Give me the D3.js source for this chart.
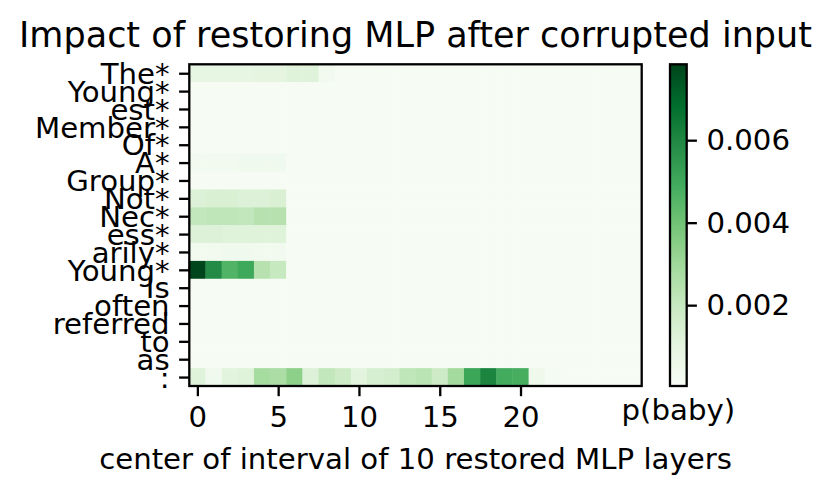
<!DOCTYPE html>
<html>
<head>
<meta charset="utf-8">
<script src="https://cdn.jsdelivr.net/npm/d3@7/dist/d3.min.js"></script>
<style>
body { margin: 0; background: #fff; }
text { font-family: "DejaVu Sans", sans-serif; }
</style>
</head>
<body>
<svg id="chart" width="831" height="496"></svg>
<script>
// tokens (rows) and layer indices (columns)
const tokens = ["The*", "Young*", "est*", "Member*", "Of*", "A*", "Group*", "Not*", "Nec*",
	"ess*", "arily*", "Young*", "Is", "often", "referred", "to", "as", ":"]
const layers = d3.range(28)
const xTicks = [0, 5, 10, 15, 20]
const cbarTicks = [0.002, 0.004, 0.006]

// p(baby) per token row, per restored layer window
const rowThe = [0.0009, 0.0009, 0.0009, 0.0009, 0.0010, 0.0010, 0.0012, 0.0012, 0.0003, 0.0001, 0.0001, 0.0001, 0.0001, 0.0001, 0.0001, 0.0001, 0.0001, 0.0001, 0.0001, 0.0001, 0.0001, 0.0001, 0.0001, 0.0001, 0.0001, 0.0001, 0.0001, 0.0001]
const rowYoung1 = [0.0001, 0.0001, 0.0001, 0.0001, 0.0001, 0.0001, 0.0001, 0.0001, 0.0001, 0.0001, 0.0001, 0.0001, 0.0001, 0.0001, 0.0001, 0.0001, 0.0001, 0.0001, 0.0001, 0.0001, 0.0001, 0.0001, 0.0001, 0.0001, 0.0001, 0.0001, 0.0001, 0.0001]
const rowEst = [0.0001, 0.0001, 0.0001, 0.0001, 0.0001, 0.0001, 0.0001, 0.0001, 0.0001, 0.0001, 0.0001, 0.0001, 0.0001, 0.0001, 0.0001, 0.0001, 0.0001, 0.0001, 0.0001, 0.0001, 0.0001, 0.0001, 0.0001, 0.0001, 0.0001, 0.0001, 0.0001, 0.0001]
const rowMember = [0.0001, 0.0001, 0.0001, 0.0001, 0.0001, 0.0001, 0.0001, 0.0001, 0.0001, 0.0001, 0.0001, 0.0001, 0.0001, 0.0001, 0.0001, 0.0001, 0.0001, 0.0001, 0.0001, 0.0001, 0.0001, 0.0001, 0.0001, 0.0001, 0.0001, 0.0001, 0.0001, 0.0001]
const rowOf = [0.0001, 0.0001, 0.0001, 0.0001, 0.0001, 0.0001, 0.0001, 0.0001, 0.0001, 0.0001, 0.0001, 0.0001, 0.0001, 0.0001, 0.0001, 0.0001, 0.0001, 0.0001, 0.0001, 0.0001, 0.0001, 0.0001, 0.0001, 0.0001, 0.0001, 0.0001, 0.0001, 0.0001]
const rowA = [0.0003, 0.0003, 0.0003, 0.0004, 0.0004, 0.0004, 0.0001, 0.0001, 0.0001, 0.0001, 0.0001, 0.0001, 0.0001, 0.0001, 0.0001, 0.0001, 0.0001, 0.0001, 0.0001, 0.0001, 0.0001, 0.0001, 0.0001, 0.0001, 0.0001, 0.0001, 0.0001, 0.0001]
const rowGroup = [0.0001, 0.0001, 0.0001, 0.0001, 0.0001, 0.0001, 0.0001, 0.0001, 0.0001, 0.0001, 0.0001, 0.0001, 0.0001, 0.0001, 0.0001, 0.0001, 0.0001, 0.0001, 0.0001, 0.0001, 0.0001, 0.0001, 0.0001, 0.0001, 0.0001, 0.0001, 0.0001, 0.0001]
const rowNot = [0.0013, 0.0014, 0.0014, 0.0013, 0.0013, 0.0014, 0.0001, 0.0001, 0.0001, 0.0001, 0.0001, 0.0001, 0.0001, 0.0001, 0.0001, 0.0001, 0.0001, 0.0001, 0.0001, 0.0001, 0.0001, 0.0001, 0.0001, 0.0001, 0.0001, 0.0001, 0.0001, 0.0001]
const rowNec = [0.0021, 0.0022, 0.0022, 0.0021, 0.0024, 0.0024, 0.0001, 0.0001, 0.0001, 0.0001, 0.0001, 0.0001, 0.0001, 0.0001, 0.0001, 0.0001, 0.0001, 0.0001, 0.0001, 0.0001, 0.0001, 0.0001, 0.0001, 0.0001, 0.0001, 0.0001, 0.0001, 0.0001]
const rowEss = [0.0013, 0.0013, 0.0012, 0.0012, 0.0012, 0.0012, 0.0001, 0.0001, 0.0001, 0.0001, 0.0001, 0.0001, 0.0001, 0.0001, 0.0001, 0.0001, 0.0001, 0.0001, 0.0001, 0.0001, 0.0001, 0.0001, 0.0001, 0.0001, 0.0001, 0.0001, 0.0001, 0.0001]
const rowArily = [0.0003, 0.0003, 0.0004, 0.0004, 0.0003, 0.0003, 0.0001, 0.0001, 0.0001, 0.0001, 0.0001, 0.0001, 0.0001, 0.0001, 0.0001, 0.0001, 0.0001, 0.0001, 0.0001, 0.0001, 0.0001, 0.0001, 0.0001, 0.0001, 0.0001, 0.0001, 0.0001, 0.0001]
const rowYoung2 = [0.0078, 0.0059, 0.0046, 0.0050, 0.0024, 0.0020, 0.0001, 0.0001, 0.0001, 0.0001, 0.0001, 0.0001, 0.0001, 0.0001, 0.0001, 0.0001, 0.0001, 0.0001, 0.0001, 0.0001, 0.0001, 0.0001, 0.0001, 0.0001, 0.0001, 0.0001, 0.0001, 0.0001]
const rowIs = [0.0001, 0.0001, 0.0001, 0.0001, 0.0001, 0.0001, 0.0001, 0.0001, 0.0001, 0.0001, 0.0001, 0.0001, 0.0001, 0.0001, 0.0001, 0.0001, 0.0001, 0.0001, 0.0001, 0.0001, 0.0001, 0.0001, 0.0001, 0.0001, 0.0001, 0.0001, 0.0001, 0.0001]
const rowOften = [0.0001, 0.0001, 0.0001, 0.0001, 0.0001, 0.0001, 0.0001, 0.0001, 0.0001, 0.0001, 0.0001, 0.0001, 0.0001, 0.0001, 0.0001, 0.0001, 0.0001, 0.0001, 0.0001, 0.0001, 0.0001, 0.0001, 0.0001, 0.0001, 0.0001, 0.0001, 0.0001, 0.0001]
const rowReferred = [0.0001, 0.0001, 0.0001, 0.0001, 0.0001, 0.0001, 0.0001, 0.0001, 0.0001, 0.0001, 0.0001, 0.0001, 0.0001, 0.0001, 0.0001, 0.0001, 0.0001, 0.0001, 0.0001, 0.0001, 0.0001, 0.0001, 0.0001, 0.0001, 0.0001, 0.0001, 0.0001, 0.0001]
const rowTo = [0.0001, 0.0001, 0.0001, 0.0001, 0.0001, 0.0001, 0.0001, 0.0001, 0.0001, 0.0001, 0.0001, 0.0001, 0.0001, 0.0001, 0.0001, 0.0001, 0.0001, 0.0001, 0.0001, 0.0001, 0.0001, 0.0001, 0.0001, 0.0001, 0.0001, 0.0001, 0.0001, 0.0001]
const rowAs = [0.0001, 0.0001, 0.0001, 0.0001, 0.0001, 0.0001, 0.0001, 0.0001, 0.0001, 0.0001, 0.0001, 0.0001, 0.0001, 0.0001, 0.0001, 0.0001, 0.0001, 0.0001, 0.0001, 0.0001, 0.0001, 0.0001, 0.0001, 0.0001, 0.0001, 0.0001, 0.0001, 0.0001]
const rowColon = [0.0012, 0.0004, 0.0011, 0.0012, 0.0028, 0.0027, 0.0034, 0.0013, 0.0021, 0.0018, 0.0011, 0.0015, 0.0016, 0.0022, 0.0023, 0.0018, 0.0029, 0.0051, 0.0061, 0.0049, 0.0048, 0.0005, 0.0002, 0.0001, 0.0001, 0.0001, 0.0001, 0.0001]

const rows = [rowThe, rowYoung1, rowEst, rowMember, rowOf, rowA, rowGroup, rowNot, rowNec,
	rowEss, rowArily, rowYoung2, rowIs, rowOften, rowReferred, rowTo, rowAs, rowColon]

const vmin = 0.00004
const vmax = 0.00784

const svg = d3.select("#chart")
const axL = 189.3, axR = 641.7, axT = 64.3, axB = 386
const fs = 29.2
const tick = 10.2
const lw = 2.3

const x = d3.scaleLinear().domain([-0.5, layers.length - 0.5]).range([axL, axR])
const y = d3.scaleLinear().domain([-0.5, tokens.length - 0.5]).range([axT, axB])

// matplotlib "Greens": linear through the 9 brewer colours
const greens = d3.schemeGreens[9]
const color = d3.scaleLinear()
	.domain(greens.map((c, i) => vmin + (vmax - vmin) * i / 8))
	.range(greens)
	.clamp(true)

const cells = []
rows.forEach((r, i) => r.forEach((v, j) => cells.push({ row: i, col: j, v: v })))

svg.append("g")
	.selectAll("rect")
	.data(cells)
	.join("rect")
	.attr("x", d => x(d.col - 0.5))
	.attr("y", d => y(d.row - 0.5))
	.attr("width", d => x(d.col + 0.5) - x(d.col - 0.5) + 0.4)
	.attr("height", d => y(d.row + 0.5) - y(d.row - 0.5) + 0.4)
	.attr("fill", d => color(d.v))

svg.append("rect")
	.attr("x", axL).attr("y", axT)
	.attr("width", axR - axL).attr("height", axB - axT)
	.attr("fill", "none").attr("stroke", "#000").attr("stroke-width", lw)

function styleAxis(g) {
	g.select(".domain").remove()
	g.selectAll(".tick line").attr("stroke", "#000").attr("stroke-width", lw)
	g.selectAll(".tick text").attr("fill", "#000").attr("font-size", fs)
		.attr("font-family", "DejaVu Sans")
}

const yAxis = d3.axisLeft(y)
	.tickValues(d3.range(tokens.length))
	.tickFormat(i => tokens[i])
	.tickSize(tick)
	.tickPadding(9.5)
svg.append("g").attr("transform", `translate(${axL},0)`).call(yAxis).call(styleAxis)
	.selectAll(".tick text").attr("dy", "0.35em")

const xAxis = d3.axisBottom(x)
	.tickValues(xTicks)
	.tickSize(tick)
	.tickPadding(10)
svg.append("g").attr("transform", `translate(0,${axB})`).call(xAxis).call(styleAxis)

svg.append("text")
	.attr("x", (axL + axR) / 2).attr("y", 469)
	.attr("text-anchor", "middle").attr("font-size", fs)
	.text("center of interval of 10 restored MLP layers")

svg.append("text")
	.attr("x", (axL + axR) / 2).attr("y", 47)
	.attr("text-anchor", "middle").attr("font-size", 35)
	.text("Impact of restoring MLP after corrupted input")

// colorbar
const cbL = 670, cbR = 686.7
const cy = d3.scaleLinear().domain([vmin, vmax]).range([axB, axT])
const grad = svg.append("defs").append("linearGradient")
	.attr("id", "cbgrad").attr("x1", 0).attr("y1", 1).attr("x2", 0).attr("y2", 0)
grad.selectAll("stop")
	.data(d3.range(0, 1.0001, 0.125))
	.join("stop")
	.attr("offset", d => d)
	.attr("stop-color", d => color(vmin + d * (vmax - vmin)))
svg.append("rect")
	.attr("x", cbL).attr("y", axT).attr("width", cbR - cbL).attr("height", axB - axT)
	.attr("fill", "url(#cbgrad)").attr("stroke", "#000").attr("stroke-width", lw)

const cAxis = d3.axisRight(cy)
	.tickValues(cbarTicks)
	.tickFormat(d3.format(".3f"))
	.tickSize(tick)
	.tickPadding(9.5)
svg.append("g").attr("transform", `translate(${cbR},0)`).call(cAxis).call(styleAxis)

svg.append("text")
	.attr("x", (cbL + cbR) / 2).attr("y", 420)
	.attr("text-anchor", "middle").attr("font-size", fs)
	.text("p(baby)")
</script>
</body>
</html>
